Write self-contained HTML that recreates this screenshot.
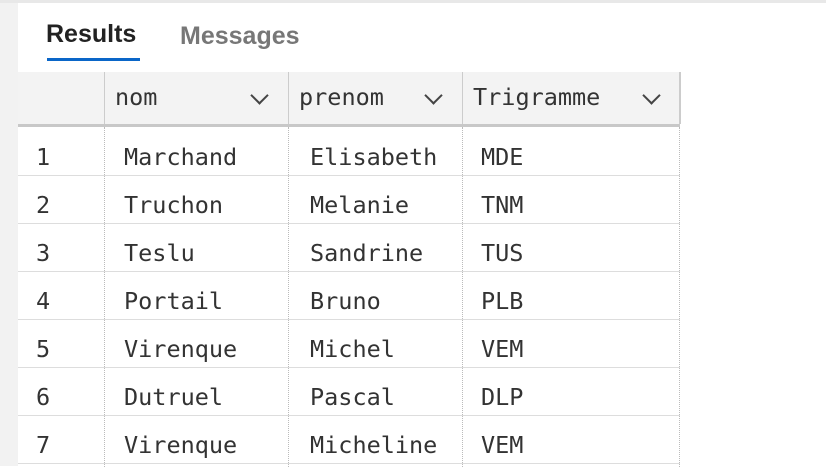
<!DOCTYPE html>
<html><head><style>
body{margin:0;width:826px;height:466px;overflow:hidden;background:#fff;position:relative;font-family:"DejaVu Sans Mono","Liberation Mono",monospace;color:#333}
.a{position:absolute}
.t{position:absolute;font-size:23.5px;line-height:28px;white-space:pre}
.chev{position:absolute;width:11px;height:11px;border-right:2px solid #444;border-bottom:2px solid #444;transform:rotate(45deg)}
</style></head><body>
<div class="a" style="left:0;top:0;width:18px;height:466px;background:#f2f2f2"></div>
<div class="a" style="left:0;top:0;width:826px;height:3px;background:#e8e8e8"></div>
<div class="a" style="left:46px;top:20px;font:bold 25px 'Liberation Sans',sans-serif;color:#222">Results</div>
<div class="a" style="left:180px;top:22px;font:bold 25px 'Liberation Sans',sans-serif;color:#777">Messages</div>
<div class="a" style="left:47px;top:58px;width:93px;height:3px;background:#0a66c8"></div>
<div class="a" style="left:18px;top:72px;width:662px;height:52px;background:#f3f3f3"></div>
<div class="a" style="left:18px;top:124px;width:662px;height:3px;background:#c8c8c8"></div>
<div class="a" style="left:104px;top:72px;width:1px;height:52px;background:#ccc"></div>
<div class="a" style="left:288px;top:72px;width:1px;height:52px;background:#ccc"></div>
<div class="a" style="left:462px;top:72px;width:1px;height:52px;background:#ccc"></div>
<div class="a" style="left:679px;top:72px;width:2px;height:52px;background:#ccc"></div>
<div class="a" style="left:104px;top:127px;height:340px;border-left:1px dotted #bbb"></div>
<div class="a" style="left:288px;top:127px;height:340px;border-left:1px dotted #bbb"></div>
<div class="a" style="left:462px;top:127px;height:340px;border-left:1px dotted #bbb"></div>
<div class="a" style="left:679px;top:127px;height:340px;border-left:1px dotted #bbb"></div>
<div class="t" style="left:115px;top:83px">nom</div>
<div class="t" style="left:299px;top:83px">prenom</div>
<div class="t" style="left:473px;top:83px">Trigramme</div>
<div class="chev" style="left:253px;top:89px"></div>
<div class="chev" style="left:427px;top:89px"></div>
<div class="chev" style="left:645px;top:89px"></div>
<div id="rows"></div>
<script>
var d=[["Marchand","Elisabeth","MDE"],["Truchon","Melanie","TNM"],["Teslu","Sandrine","TUS"],["Portail","Bruno","PLB"],["Virenque","Michel","VEM"],["Dutruel","Pascal","DLP"],["Virenque","Micheline","VEM"]];
var h="";
d.forEach(function(r,i){var y=143+48*i;
h+='<div class="t" style="left:36px;top:'+y+'px">'+(i+1)+'</div><div class="t" style="left:124px;top:'+y+'px">'+r[0]+'</div><div class="t" style="left:310px;top:'+y+'px">'+r[1]+'</div><div class="t" style="left:481px;top:'+y+'px">'+r[2]+'</div><div class="a" style="left:18px;top:'+(175+48*i)+'px;width:662px;height:1px;background:#ddd"></div>';});
document.getElementById("rows").innerHTML=h;
</script>
</body></html>
